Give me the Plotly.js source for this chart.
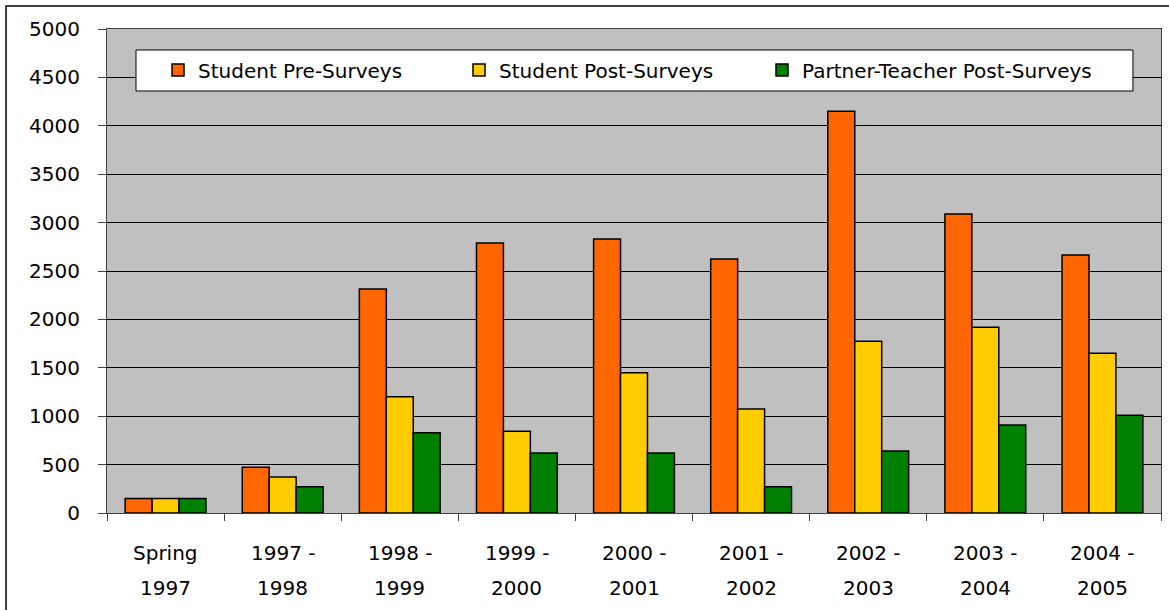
<!DOCTYPE html>
<html>
<head>
<meta charset="utf-8">
<script src="https://cdn.plot.ly/plotly-3.0.1.min.js"></script>
<style>html,body{margin:0;padding:0;background:#fff;}#chart{width:1169px;height:610px;}</style>
</head>
<body>
<div id="chart"></div>
<script>
// Categories (two-line labels)
const categories = ["Spring 1997","1997 - 1998","1998 - 1999","1999 - 2000","2000 - 2001","2001 - 2002","2002 - 2003","2003 - 2004","2004 - 2005"];
const labelLine1 = ["Spring","1997 -","1998 -","1999 -","2000 -","2001 -","2002 -","2003 -","2004 -"];
const labelLine2 = ["1997","1998","1999","2000","2001","2002","2003","2004","2005"];

// Series values
const studentPre = [150, 472, 2315, 2790, 2830, 2625, 4150, 3090, 2665];
const studentPost = [150, 372, 1200, 845, 1450, 1075, 1775, 1920, 1650];
const teacherPost = [150, 270, 830, 620, 620, 270, 640, 910, 1010];

const seriesNames = ["Student Pre-Surveys", "Student Post-Surveys", "Partner-Teacher Post-Surveys"];
const yTicks = [0, 500, 1000, 1500, 2000, 2500, 3000, 3500, 4000, 4500, 5000];

const FONT = "DejaVu Sans, Verdana, sans-serif";
const colors = ["#FF6600", "#FFCC00", "#008000"];
const seriesData = [studentPre, studentPost, teacherPost];
const entryWidths = [256, 258, 320];

const traces = seriesData.map((vals, i) => ({
  type: "bar",
  name: seriesNames[i],
  x: categories,
  y: vals,
  legendwidth: entryWidths[i],
  marker: {color: colors[i], line: {color: "#000", width: 1.5}},
  hoverinfo: "x+y+name"
}));

const annotations = [];
categories.forEach((c, i) => {
  annotations.push({xref: "x", yref: "paper", x: c, y: -0.0826, text: labelLine1[i], showarrow: false,
    xanchor: "center", yanchor: "middle", font: {family: FONT, size: 20, color: "#000"}});
  annotations.push({xref: "x", yref: "paper", x: c, y: -0.155, text: labelLine2[i], showarrow: false,
    xanchor: "center", yanchor: "middle", font: {family: FONT, size: 20, color: "#000"}});
});

const layout = {
  width: 1169, height: 610,
  margin: {l: 107, r: 8, t: 29, b: 97, pad: 0},
  paper_bgcolor: "#ffffff",
  plot_bgcolor: "#C0C0C0",
  barmode: "group",
  bargap: 0.31,
  bargroupgap: 0,
  font: {family: FONT, size: 20, color: "#000"},
  xaxis: {
    type: "category",
    range: [-0.5, 8.5],
    showticklabels: false,
    ticks: "outside", ticklen: 7, tickcolor: "#404040", tickwidth: 1,
    tickson: "boundaries",
    showgrid: false,
    showline: true, linecolor: "#404040", linewidth: 1, mirror: true,
    zeroline: false,
    fixedrange: true
  },
  yaxis: {
    range: [0, 5000],
    tickvals: yTicks,
    ticktext: yTicks.map(String),
    ticks: "outside", ticklen: 8, tickcolor: "#404040", tickwidth: 1,
    ticklabelstandoff: 14,
    tickfont: {family: FONT, size: 20, color: "#000"},
    showgrid: true, gridcolor: "#000", gridwidth: 1,
    showline: true, linecolor: "#404040", linewidth: 1, mirror: true,
    zeroline: false,
    fixedrange: true
  },
  legend: {
    orientation: "h",
    x: 0.0484, xanchor: "left",
    y: 0.9153, yanchor: "middle",
    bgcolor: "rgba(0,0,0,0)",
    borderwidth: 0,
    font: {family: FONT, size: 20, color: "#000"},
    traceorder: "normal"
  },
  annotations: annotations,
  shapes: [
    {type: "rect", xref: "paper", yref: "paper",
     x0: 0.0275, x1: 0.9734, y0: 0.8719, y1: 0.9566,
     line: {color: "#000", width: 1}, fillcolor: "#ffffff", layer: "above"},
    {type: "rect", xref: "paper", yref: "paper",
     x0: -0.0958, x1: 1.2, y0: -0.3, y1: 1.0475,
     line: {color: "#000", width: 1.5}, fillcolor: "rgba(0,0,0,0)", layer: "above"}
  ],
  showlegend: true
};

Plotly.newPlot("chart", traces, layout, {displayModeBar: false, staticPlot: true});
</script>
</body>
</html>
